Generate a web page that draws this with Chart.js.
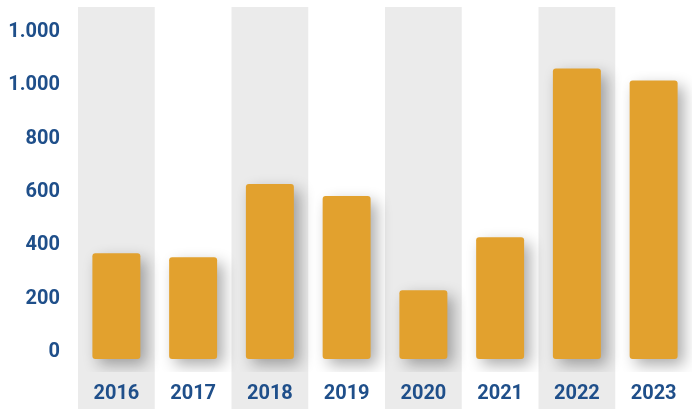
<!DOCTYPE html>
<html>
<head>
<meta charset="utf-8">
<script src="https://cdn.jsdelivr.net/npm/chart.js@4"></script>
<style>
  html, body { margin: 0; padding: 0; background: #fff; }
  #wrap { width: 698px; height: 409px; }
</style>
</head>
<body>
<div id="wrap"><canvas id="chart"></canvas></div>
<script>
var years = ['2016', '2017', '2018', '2019', '2020', '2021', '2022', '2023'];
var values = [370, 355, 630, 585, 232, 430, 1063, 1018];
var yTicks = [0, 200, 400, 600, 800, 1000, 1200];
var yTickLabels = ['0', '200', '400', '600', '800', '1.000', '1.000'];

var blue = '#1f4f8a';

// grey bands behind every other year, running down to the bottom of the canvas
var bands = {
    id: 'bands',
    beforeDraw: function (chart) {
        var ctx = chart.ctx, x = chart.scales.x, area = chart.chartArea;
        var w = (area.right - area.left) / years.length;
        ctx.save();
        ctx.fillStyle = '#ebebeb';
        for (var i = 0; i < years.length; i += 2) {
            var cx = x.getPixelForValue(i);
            ctx.fillRect(cx - w / 2, area.top, w, chart.height - area.top);
        }
        ctx.restore();
    }
};

var shadow = {
    id: 'shadow',
    beforeDatasetsDraw: function (chart) {
        var ctx = chart.ctx;
        ctx.save();
        ctx.shadowColor = 'rgba(0,0,0,0.33)';
        ctx.shadowBlur = 15;
        ctx.shadowOffsetX = 6;
        ctx.shadowOffsetY = 6;
    },
    afterDatasetsDraw: function (chart) {
        chart.ctx.restore();
    }
};

new Chart(document.getElementById('chart'), {
    type: 'bar',
    data: {
        labels: years,
        datasets: [{
            data: values,
            backgroundColor: '#e2a12e',
            borderWidth: 0,
            borderRadius: 3,
            borderSkipped: false,
            base: -26,
            categoryPercentage: 1,
            barPercentage: 0.625
        }]
    },
    options: {
        responsive: true,
        maintainAspectRatio: false,
        animation: false,
        layout: { padding: { top: 7, right: 6, left: 0, bottom: 0 } },
        plugins: {
            legend: { display: false },
            tooltip: { enabled: false }
        },
        scales: {
            x: {
                grid: { display: false },
                border: { display: false },
                ticks: {
                    color: blue,
                    padding: 2,
                    font: { family: 'Roboto', weight: 'bold', size: 20 }
                },
                afterFit: function (s) {
                    s.height = 37;
                    s.paddingLeft = 0;
                    s.paddingRight = 0;
                }
            },
            y: {
                min: -75,
                max: 1294,
                grid: { display: false },
                border: { display: false },
                afterBuildTicks: function (s) {
                    s.ticks = yTicks.map(function (v) { return { value: v }; });
                },
                ticks: {
                    color: blue,
                    padding: 10,
                    font: { family: 'Roboto', weight: 'bold', size: 20 },
                    callback: function (v) {
                        var i = yTicks.indexOf(v);
                        return i >= 0 ? yTickLabels[i] : '';
                    }
                },
                afterFit: function (s) {
                    s.width = 78;
                    s.paddingTop = 0;
                    s.paddingBottom = 0;
                }
            }
        }
    },
    plugins: [bands, shadow]
});
</script>
</body>
</html>
